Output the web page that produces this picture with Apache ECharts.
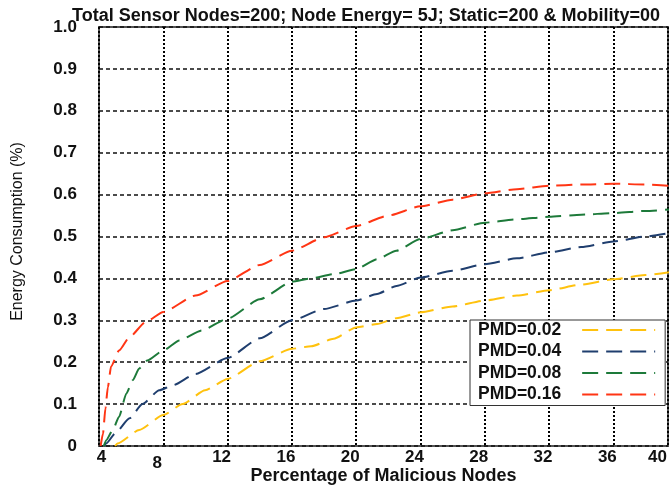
<!DOCTYPE html>
<html>
<head>
<meta charset="utf-8">
<script src="https://cdn.jsdelivr.net/npm/echarts@6/dist/echarts.min.js"></script>
<style>
  html, body { margin: 0; padding: 0; background: #fff; }
  #chart { width: 669px; height: 486px; }
</style>
</head>
<body>
<div id="chart"></div>
<script>
// data: [percentage of malicious nodes, energy consumption]
const seriesNames = ['PMD=0.02', 'PMD=0.04', 'PMD=0.08', 'PMD=0.16'];
const xTicks = [4, 8, 12, 16, 20, 24, 28, 32, 36, 40];
const yTicks = [0, 0.1, 0.2, 0.3, 0.4, 0.5, 0.6, 0.7, 0.8, 0.9, 1.0];

const pmd002 = [[5, 0], [5.15, 0.006], [6.5, 0.038], [8, 0.074], [9.2, 0.1], [10.6, 0.133], [12, 0.16],
  [14, 0.202], [16, 0.232], [17.2, 0.238], [18.6, 0.256], [20, 0.283], [21.3, 0.291], [22.5, 0.305],
  [24, 0.319], [26, 0.333], [28, 0.347], [30, 0.359], [32, 0.372], [34, 0.385], [36, 0.398], [38, 0.408], [40, 0.418]];
const pmd004 = [[4.3, 0], [4.45, 0.006], [5, 0.03], [5.9, 0.066], [6.7, 0.1], [7.75, 0.133], [8.6, 0.145],
  [10, 0.172], [12, 0.21], [14, 0.257], [16, 0.3], [18, 0.327], [20, 0.347], [21.3, 0.363], [22.5, 0.382],
  [24, 0.402], [26, 0.418], [28, 0.434], [30, 0.448], [32, 0.462], [34, 0.475], [36, 0.488], [38, 0.5], [40, 0.512]];
const pmd008 = [[4.3, 0], [4.45, 0.014], [4.85, 0.038], [5.25, 0.07], [5.7, 0.125], [6.1, 0.157], [6.5, 0.185],
  [7, 0.204], [8, 0.228], [9, 0.252], [10.4, 0.276], [12, 0.304], [14, 0.35], [16, 0.392], [17.2, 0.4],
  [18.6, 0.41], [20, 0.422], [21.3, 0.446], [22.5, 0.466], [24, 0.494], [26, 0.515], [28, 0.533], [30, 0.541],
  [32, 0.547], [34, 0.552], [36, 0.556], [38, 0.561], [40, 0.566]];
const pmd016 = [[4.1, 0], [4.25, 0.03], [4.4, 0.09], [4.55, 0.14], [4.75, 0.19], [5.25, 0.228], [5.9, 0.26],
  [6.9, 0.296], [8, 0.32], [10, 0.359], [12, 0.394], [14, 0.432], [16, 0.466], [18, 0.498], [20, 0.525],
  [22, 0.55], [24, 0.572], [26, 0.588], [28, 0.603], [30, 0.613], [32, 0.621], [34, 0.624], [36, 0.626],
  [38, 0.624], [40, 0.62]];

const colors = ['#FFC20E', '#1F3E6E', '#1D7A3A', '#FF3514'];
const seriesData = [pmd002, pmd004, pmd008, pmd016];

const FONT = 'Liberation Sans, Arial, sans-serif';
const myChart = echarts.init(document.getElementById('chart'));

const tickStyle = { fontFamily: FONT, fontWeight: 'bold', fontSize: 17, color: '#111' };

myChart.setOption({
  animation: false,
  title: {
    text: 'Total Sensor Nodes=200; Node Energy= 5J; Static=200 & Mobility=00',
    left: 361,
    top: 2,
    textAlign: 'center',
    textStyle: { fontFamily: FONT, fontWeight: 'bold', fontSize: 18, color: '#111' }
  },
  grid: {
    left: 99,
    right: 1,
    top: 27,
    bottom: 40,
    outerBoundsMode: 'none',
    show: true,
    borderColor: '#555',
    borderWidth: 2,
    backgroundColor: '#fff'
  },
  legend: {
    orient: 'vertical',
    left: 470,
    top: 320,
    align: 'right',
    backgroundColor: '#fff',
    borderColor: '#333',
    borderWidth: 1,
    padding: [1, 9, 2, 8],
    itemGap: 3.5,
    itemWidth: 73,
    itemHeight: 14,
    itemStyle: { opacity: 0 },
    textStyle: {
      fontFamily: FONT, fontWeight: 'bold', fontSize: 17.5, color: '#111',
      lineHeight: 17, padding: [0, 16, 0, 0]
    },
    data: seriesNames
  },
  xAxis: {
    type: 'value',
    min: 4,
    max: 39.4,
    interval: 4,
    name: 'Percentage of Malicious Nodes',
    nameLocation: 'middle',
    nameGap: 21,
    nameMoveOverlap: false,
    nameTextStyle: { fontFamily: FONT, fontWeight: 'bold', fontSize: 18, color: '#111' },
    axisLine: { show: false },
    axisTick: { show: false },
    axisLabel: {
      margin: 3,
      fontFamily: FONT,
      fontWeight: 'bold',
      fontSize: 17,
      color: '#111',
      showMaxLabel: true,
      alignMaxLabel: 'right',
      formatter: function (v) {
        if (v > 39) return '{d|' + xTicks[xTicks.length - 1] + '}';
        if (v === 4) return '{c|4}';
        if (v === 8) return '{b|8}';
        return '{a|' + v + '}';
      },
      rich: {
        a: Object.assign({ padding: [0, 12, 0, 0] }, tickStyle),
        b: Object.assign({ padding: [6, 12, 0, 0] }, tickStyle),
        c: Object.assign({ padding: [0, 0, 0, 5] }, tickStyle),
        d: Object.assign({ padding: [0, 1, 0, 0] }, tickStyle)
      }
    },
    splitLine: { show: true, lineStyle: { color: '#000', type: [2, 2], width: 2 } }
  },
  yAxis: {
    type: 'value',
    min: yTicks[0],
    max: yTicks[yTicks.length - 1],
    interval: 0.1,
    name: 'Energy Consumption (%)',
    nameLocation: 'middle',
    nameGap: 73,
    nameMoveOverlap: false,
    nameTextStyle: { fontFamily: FONT, fontSize: 16, color: '#111', padding: [0, 0, 0, 10] },
    axisLine: { show: false },
    axisTick: { show: false },
    axisLabel: {
      margin: 22,
      fontFamily: FONT,
      fontWeight: 'bold',
      fontSize: 17,
      color: '#111',
      formatter: function (v) {
        if (v === 0) return '0';
        return v.toFixed(1);
      }
    },
    splitLine: { show: true, lineStyle: { color: '#111', type: [4, 3], width: 1.5 } }
  },
  series: seriesNames.map(function (name, i) {
    return {
      name: name,
      type: 'line',
      data: seriesData[i],
      smooth: 0.2,
      smoothMonotone: 'x',
      symbol: 'none',
      color: colors[i],
      lineStyle: { color: colors[i], width: 2, type: [16, 8] },
      z: 3
    };
  })
});
</script>
</body>
</html>
